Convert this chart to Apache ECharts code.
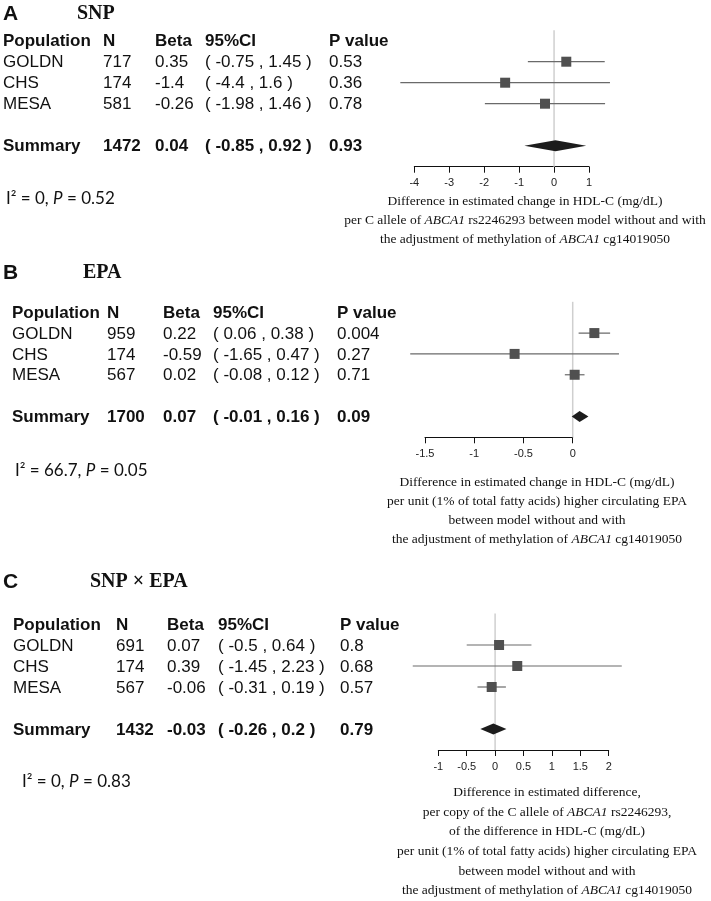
<!DOCTYPE html>
<html><head><meta charset="utf-8">
<script src="https://cdn.jsdelivr.net/npm/echarts@6/dist/echarts.min.js"></script>
<style>html,body{margin:0;padding:0;background:#fff}#c{width:711px;height:901px}</style>
</head><body><div id="c"></div>
<script>
// ---------- DATA ----------
const panelLetters = ['A', 'B', 'C'];
const panelTitles = ['SNP', 'EPA', 'SNP × EPA'];
const headers = ['Population', 'N', 'Beta', '95%CI', 'P value'];
const populations = ['GOLDN', 'CHS', 'MESA'];

// Panel A: SNP
const nA = [717, 174, 581];
const betaA = [0.35, -1.4, -0.26];
const lowA = [-0.75, -4.4, -1.98];
const highA = [1.45, 1.6, 1.46];
const pA = ['0.53', '0.36', '0.78'];
const summaryA = [1472, 0.04, -0.85, 0.92, '0.93'];
const ticksA = [-4, -3, -2, -1, 0, 1];
const i2A = ['0', '0.52'];
const noteA = [
  'Difference in estimated change in HDL-C (mg/dL)',
  'per C allele of *ABCA1* rs2246293 between model without and with',
  'the adjustment of methylation of *ABCA1* cg14019050'
];

// Panel B: EPA
const nB = [959, 174, 567];
const betaB = [0.22, -0.59, 0.02];
const lowB = [0.06, -1.65, -0.08];
const highB = [0.38, 0.47, 0.12];
const pB = ['0.004', '0.27', '0.71'];
const summaryB = [1700, 0.07, -0.01, 0.16, '0.09'];
const ticksB = [-1.5, -1, -0.5, 0];
const i2B = ['66.7', '0.05'];
const noteB = [
  'Difference in estimated change in HDL-C (mg/dL)',
  'per unit (1% of total fatty acids) higher circulating EPA',
  'between model without and with',
  'the adjustment of methylation of *ABCA1* cg14019050'
];

// Panel C: SNP x EPA
const nC = [691, 174, 567];
const betaC = [0.07, 0.39, -0.06];
const lowC = [-0.5, -1.45, -0.31];
const highC = [0.64, 2.23, 0.19];
const pC = ['0.8', '0.68', '0.57'];
const summaryC = [1432, -0.03, -0.26, 0.2, '0.79'];
const ticksC = [-1, -0.5, 0, 0.5, 1, 1.5, 2];
const i2C = ['0', '0.83'];
const noteC = [
  'Difference in estimated difference,',
  'per copy of the C allele of *ABCA1* rs2246293,',
  'of the difference in HDL-C (mg/dL)',
  'per unit (1% of total fatty acids) higher circulating EPA',
  'between model without and with',
  'the adjustment of methylation of *ABCA1* cg14019050'
];

// ---------- LAYOUT ----------
const layout = [
  {grid:{left:414.3, top:30.2, width:174.7, height:136.5}, cols:[3,103,155,205,329], letter:[3,14], title:[77,14,20], i2:[6,199], noteX:525, noteY:[201,220,239]},
  {grid:{left:425, top:301.8, width:147.7, height:135.5}, cols:[12,107,163,213,337], letter:[3,273], title:[83,273,20], i2:[15,471], noteX:537, noteY:[482,501,520,539]},
  {grid:{left:438.3, top:613.5, width:170.4, height:136.5}, cols:[13,116,167,218,340], letter:[3,582], title:[90,582,20], i2:[22,782], noteX:547, noteY:[792,812,831,851,871,890]}
];

const panels = [
  {n:nA, beta:betaA, low:lowA, high:highA, p:pA, sum:summaryA, ticks:ticksA, i2:i2A, note:noteA},
  {n:nB, beta:betaB, low:lowB, high:highB, p:pB, sum:summaryB, ticks:ticksB, i2:i2B, note:noteB},
  {n:nC, beta:betaC, low:lowC, high:highC, p:pC, sum:summaryC, ticks:ticksC, i2:i2C, note:noteC}
];

const SUM_ROW = 5;
const chart = echarts.init(document.getElementById('c'), null, {renderer:'canvas'});

const grids = [], xAxes = [], yAxes = [], series = [];
panels.forEach((pd, i) => {
  grids.push(Object.assign({}, layout[i].grid));
  const t = pd.ticks;
  xAxes.push({
    type:'value', gridIndex:i, position:'bottom', min:t[0], max:t[t.length-1], interval:t[1]-t[0],
    axisLine:{show:true, onZero:false, lineStyle:{color:'#111', width:1}},
    axisTick:{show:true, length:6, lineStyle:{color:'#111', width:1}},
    axisLabel:{show:true, margin:11, color:'#222', fontFamily:'Liberation Sans', fontSize:11,
      formatter: v => String(v)},
    splitLine:{show:false}
  });
  yAxes.push({type:'value', gridIndex:i, min:-0.5, max:6, inverse:true, show:false});
  // reference line at zero
  series.push({
    type:'custom', xAxisIndex:i, yAxisIndex:i, clip:false, z:1, silent:true,
    data:[[0, -0.5, 6]],
    renderItem:(params, api) => {
      const a = api.coord([api.value(0), api.value(1)]);
      const b = api.coord([api.value(0), api.value(2)]);
      return {type:'line', shape:{x1:a[0], y1:a[1], x2:b[0], y2:b[1]}, style:{stroke:'#cfcfcf', lineWidth:1.5}};
    }
  });
  // CI lines
  series.push({
    type:'custom', xAxisIndex:i, yAxisIndex:i, clip:false, z:2, silent:true,
    data: pd.low.map((l, k) => [l, pd.high[k], k + 1]),
    renderItem:(params, api) => {
      const a = api.coord([api.value(0), api.value(2)]);
      const b = api.coord([api.value(1), api.value(2)]);
      return {type:'line', shape:{x1:a[0], y1:a[1], x2:b[0], y2:b[1]}, style:{stroke:'#6a6a6a', lineWidth:1.2}};
    }
  });
  // point estimates
  series.push({
    type:'scatter', xAxisIndex:i, yAxisIndex:i, clip:false, z:3, silent:true,
    symbol:'rect', symbolSize:10, itemStyle:{color:'#505050', opacity:1},
    data: pd.beta.map((b, k) => [b, k + 1])
  });
  // summary diamond
  series.push({
    type:'custom', xAxisIndex:i, yAxisIndex:i, clip:false, z:4, silent:true,
    data:[[pd.sum[2], pd.sum[1], pd.sum[3], SUM_ROW]],
    renderItem:(params, api) => {
      const r = api.value(3);
      const l = api.coord([api.value(0), r]);
      const m = api.coord([api.value(1), r]);
      const h = api.coord([api.value(2), r]);
      const hh = 5.5;
      return {type:'polygon', shape:{points:[[l[0], l[1]], [m[0], m[1]-hh], [h[0], h[1]], [m[0], m[1]+hh]]}, style:{fill:'#1c1c1c'}};
    }
  });
});

chart.setOption({
  animation:false, backgroundColor:'#ffffff',
  grid:grids, xAxis:xAxes, yAxis:yAxes, series:series
});

// ---------- TEXT ----------
const graphics = [];
function txt(text, x, y, font, opts) {
  graphics.push(Object.assign({type:'text', z:10, silent:true, style:Object.assign({
    text:text, x:x, y:y, font:font, fill:'#111',
    textAlign:'left', align:'left', textVerticalAlign:'middle', verticalAlign:'middle'
  }, opts || {})}));
}
function richNote(s) {
  const parts = s.split('*');
  return parts.map((p, k) => p === '' ? '' : (k % 2 ? '{i|' + p + '}' : '{n|' + p + '}')).join('');
}
const fmt = v => String(v);
panels.forEach((pd, i) => {
  const L = layout[i];
  const rowY = r => chart.convertToPixel({gridIndex:i}, [0, r])[1] + 1;
  txt(panelLetters[i], L.letter[0], L.letter[1], 'bold 21px "Liberation Sans"');
  txt(panelTitles[i], L.title[0], L.title[1], 'bold ' + L.title[2] + 'px "Liberation Serif"');
  headers.forEach((h, c) => txt(h, L.cols[c], rowY(0), 'bold 17px "Liberation Sans"'));
  populations.forEach((pop, k) => {
    const y = rowY(k + 1);
    const vals = [pop, fmt(pd.n[k]), fmt(pd.beta[k]), '( ' + fmt(pd.low[k]) + ' , ' + fmt(pd.high[k]) + ' )', pd.p[k]];
    vals.forEach((v, c) => txt(v, L.cols[c], y, '17px "Liberation Sans"'));
  });
  const s = pd.sum;
  const sv = ['Summary', fmt(s[0]), fmt(s[1]), '( ' + fmt(s[2]) + ' , ' + fmt(s[3]) + ' )', s[4]];
  sv.forEach((v, c) => txt(v, L.cols[c], rowY(SUM_ROW), 'bold 17px "Liberation Sans"'));
  // heterogeneity
  txt('{n|I² = ' + pd.i2[0] + ', }{i|P}{n| = ' + pd.i2[1] + '}', L.i2[0], L.i2[1], '17px Lato', {
    rich:{n:{fontFamily:'Lato', fontSize:17, fill:'#111'}, i:{fontFamily:'Lato', fontSize:17, fontStyle:'italic', fill:'#111'}}
  });
  // notes
  pd.note.forEach((line, k) => {
    txt(richNote(line), L.noteX, L.noteY[k], '13.5px "Liberation Serif"', {
      textAlign:'center', align:'center',
      rich:{n:{fontFamily:'Liberation Serif', fontSize:13.5, fill:'#111'}, i:{fontFamily:'Liberation Serif', fontSize:13.5, fontStyle:'italic', fill:'#111'}}
    });
  });
});
chart.setOption({graphic:{elements:graphics}});
</script>
</body></html>
